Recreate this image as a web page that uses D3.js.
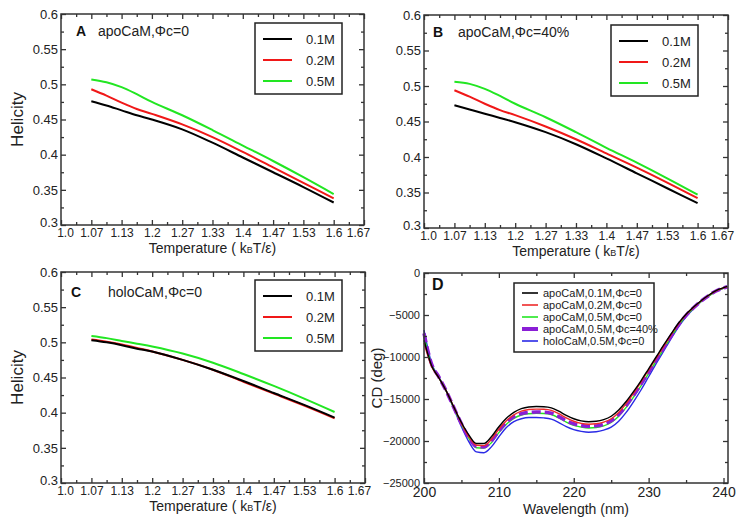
<!DOCTYPE html>
<html><head><meta charset="utf-8">
<script src="https://cdn.jsdelivr.net/npm/d3@7"></script>
<style>
html,body{margin:0;padding:0;background:#fff;}
svg{display:block;font-family:"Liberation Sans",Arial,Helvetica,sans-serif;}
</style></head>
<body><svg id="chart" width="736" height="523"></svg>
<script>
// ---------- DATA ----------
const temperatures = [1.0667, 1.1, 1.1333, 1.1667, 1.2, 1.2667, 1.3333, 1.4, 1.4667, 1.5333, 1.6];
const saltLabels = ["0.1M", "0.2M", "0.5M"];
const saltColors = ["#000000", "#f01818", "#22e622"];

const apo0_01M  = [0.476, 0.470, 0.463, 0.456, 0.450, 0.436, 0.417, 0.396, 0.375, 0.354, 0.332];
const apo0_02M  = [0.493, 0.484, 0.474, 0.465, 0.458, 0.443, 0.425, 0.404, 0.382, 0.360, 0.338];
const apo0_05M  = [0.507, 0.503, 0.496, 0.486, 0.475, 0.456, 0.435, 0.413, 0.391, 0.368, 0.344];

const apo40_01M = [0.473, 0.467, 0.461, 0.455, 0.449, 0.435, 0.418, 0.398, 0.377, 0.356, 0.335];
const apo40_02M = [0.494, 0.485, 0.475, 0.466, 0.459, 0.443, 0.425, 0.405, 0.385, 0.364, 0.342];
const apo40_05M = [0.506, 0.503, 0.496, 0.486, 0.475, 0.456, 0.435, 0.413, 0.392, 0.370, 0.347];

const holo0_01M = [0.503, 0.500, 0.496, 0.491, 0.487, 0.475, 0.461, 0.445, 0.428, 0.411, 0.393];
const holo0_02M = [0.504, 0.501, 0.497, 0.492, 0.487, 0.475, 0.461, 0.444, 0.427, 0.410, 0.392];
const holo0_05M = [0.509, 0.506, 0.502, 0.498, 0.494, 0.484, 0.471, 0.455, 0.438, 0.420, 0.401];

const tempTicks = [1.0, 1.0667, 1.1333, 1.2, 1.2667, 1.3333, 1.4, 1.4667, 1.5333, 1.6, 1.6667];
const tempTickLabels = ["1.0", "1.07", "1.13", "1.2", "1.27", "1.33", "1.4", "1.47", "1.53", "1.6", "1.67"];
const helicityTicks = [0.3, 0.35, 0.4, 0.45, 0.5, 0.55, 0.6];
const helicityTickLabels = ["0.3", "0.35", "0.4", "0.45", "0.5", "0.55", "0.6"];

const wavelengths = [200,201,202,203,204,205,206,207,208,209,210,211,212,213,214,215,216,217,218,219,220,
  221,222,223,224,225,226,227,228,229,230,231,232,233,234,235,236,237,238,239,240,240.5];
const cdApo01 = [-8000,-11000,-12500,-14100,-16000,-17800,-19300,-20300,-20300,-19500,-18300,-17300,-16600,-16150,-15950,-15900,-15920,-16050,-16450,-16950,-17350,
  -17600,-17700,-17650,-17450,-17050,-16300,-15300,-14100,-12800,-11400,-10000,-8600,-7250,-5950,-4900,-4050,-3300,-2650,-2100,-1750,-1600];
const cdApo02 = [-8300,-11100,-12500,-14100,-16000,-17900,-19500,-20500,-20550,-19800,-18600,-17600,-16900,-16450,-16250,-16200,-16220,-16350,-16750,-17250,-17650,
  -17900,-18000,-17950,-17750,-17350,-16600,-15550,-14300,-12950,-11550,-10150,-8750,-7350,-6050,-4950,-4100,-3330,-2680,-2130,-1770,-1620];
const cdApo05 = [-7500,-10900,-12500,-14100,-16100,-18000,-19700,-20800,-20850,-20200,-19000,-18000,-17300,-16900,-16750,-16700,-16720,-16850,-17250,-17750,-18150,
  -18350,-18450,-18400,-18200,-17800,-17050,-16000,-14750,-13400,-11950,-10500,-9050,-7600,-6250,-5100,-4200,-3400,-2750,-2200,-1800,-1650];
const cdApo05_40 = [-7200,-10800,-12400,-14100,-16050,-17950,-19600,-20650,-20700,-20000,-18800,-17800,-17100,-16750,-16600,-16550,-16570,-16700,-17100,-17600,-17950,
  -18150,-18250,-18200,-18000,-17600,-16850,-15800,-14550,-13200,-11800,-10350,-8900,-7500,-6150,-5050,-4150,-3350,-2700,-2150,-1780,-1630];
const cdHolo05 = [-6800,-10700,-12400,-14100,-16200,-18300,-20100,-21300,-21400,-20700,-19500,-18400,-17700,-17350,-17200,-17200,-17250,-17400,-17800,-18300,-18650,
  -18850,-18950,-18900,-18700,-18350,-17650,-16600,-15300,-13900,-12350,-10800,-9300,-7800,-6400,-5200,-4250,-3420,-2750,-2200,-1820,-1680];
const cdLabels = ["apoCaM,0.1M,\u03A6c=0", "apoCaM,0.2M,\u03A6c=0", "apoCaM,0.5M,\u03A6c=0", "apoCaM,0.5M,\u03A6c=40%", "holoCaM,0.5M,\u03A6c=0"];
const cdColors = ["#000000", "#ee2a2a", "#22e622", "#8a1ed6", "#2a2ae6"];
const wlTicks = [200, 210, 220, 230, 240];
const wlMinor = [205, 215, 225, 235];
const cdTicks = [0, -5000, -10000, -15000, -20000, -25000];
const cdMinor = [-2500, -7500, -12500, -17500, -22500];

// ---------- DRAW ----------
const svg = d3.select("#chart");
svg.append("rect").attr("width",736).attr("height",523).attr("fill","#fff");
const FONT = '"Liberation Sans",Arial,Helvetica,sans-serif';

function frameAxes(g, x, y, w, h, xMajor, xMinor, xFmt, yMajor, yMinor, yFmt, xFont, yFont, xPad, yPad) {
  const bx = g.append("g").attr("transform", `translate(0,${h})`)
    .call(d3.axisBottom(x).tickValues(xMajor).tickSize(-5).tickPadding(xPad).tickFormat(xFmt));
  bx.selectAll("text").attr("font-size", xFont).attr("font-family", FONT).attr("fill", "#222");
  g.append("g").attr("transform", `translate(0,${h})`)
    .call(d3.axisBottom(x).tickValues(xMinor).tickSize(-3).tickFormat(""));
  g.append("g").call(d3.axisTop(x).tickValues(xMajor).tickSize(-5).tickFormat(""));
  g.append("g").call(d3.axisTop(x).tickValues(xMinor).tickSize(-3).tickFormat(""));
  const ly = g.append("g")
    .call(d3.axisLeft(y).tickValues(yMajor).tickSize(-5).tickPadding(yPad).tickFormat(yFmt));
  ly.selectAll("text").attr("font-size", yFont).attr("font-family", FONT).attr("fill", "#222");
  g.append("g").call(d3.axisLeft(y).tickValues(yMinor).tickSize(-3).tickFormat(""));
  g.append("g").attr("transform", `translate(${w},0)`)
    .call(d3.axisRight(y).tickValues(yMajor).tickSize(-5).tickFormat(""));
  g.append("g").attr("transform", `translate(${w},0)`)
    .call(d3.axisRight(y).tickValues(yMinor).tickSize(-3).tickFormat(""));
  g.selectAll(".domain").remove();
  g.selectAll(".tick line").attr("stroke", "#333").attr("stroke-width", 1.3);
  g.append("rect").attr("width", w).attr("height", h).attr("fill", "none")
    .attr("stroke", "#333").attr("stroke-width", 1.5);
  return {bx, ly};
}

function tempTitle(g, cx, cy) {
  const t = g.append("text").attr("x", cx).attr("y", cy).attr("text-anchor", "middle")
    .attr("font-size", 14).attr("fill", "#222");
  t.append("tspan").text("Temperature ( k");
  t.append("tspan").attr("font-size", 9).text("B");
  t.append("tspan").text("T/\u03B5)");
}

function helicityPanel(p) {
  const w = p.right - p.left, h = p.bottom - p.top;
  const x = d3.scaleLinear().domain([1.0, 1.6667]).range([0, w]);
  const y = d3.scaleLinear().domain([0.3, 0.6]).range([h, 0]);
  const g = svg.append("g").attr("transform", `translate(${p.left},${p.top})`);
  const minorX = tempTicks.slice(0, -1).map((v, i) => (v + tempTicks[i + 1]) / 2);
  const minorY = helicityTicks.slice(0, -1).map((v, i) => (v + helicityTicks[i + 1]) / 2);
  const lineGen = d3.line().x(d => x(d[0])).y(d => y(d[1])).curve(d3.curveCatmullRom.alpha(0.5));
  p.series.forEach((s, i) => {
    g.append("path").datum(temperatures.map((t, j) => [t, s[j]]))
      .attr("d", lineGen).attr("fill", "none").attr("stroke", saltColors[p.order[i]])
      .attr("stroke-width", 2);
  });
  const ax = frameAxes(g, x, y, w, h, tempTicks, minorX, (d, i) => tempTickLabels[i],
    helicityTicks, minorY, (d, i) => helicityTickLabels[i], 12, 13, 3, 3);
  const xt = ax.bx.selectAll("text").nodes();
  d3.select(xt[0]).attr("dx", 4);
  d3.select(xt[xt.length - 1]).attr("dx", -6);
  const yt = ax.ly.selectAll("text").nodes();
  d3.select(yt[0]).attr("dy", "0.15em");
  g.append("text").attr("x", p.letterX - p.left).attr("y", p.labelY - p.top).attr("dy", "0.35em")
    .attr("font-weight", "bold").attr("font-size", 14).attr("fill", "#111").text(p.letter);
  g.append("text").attr("x", p.nameX - p.left).attr("y", p.labelY - p.top).attr("dy", "0.35em")
    .attr("font-size", 14).attr("fill", "#222").text(p.name);
  const lg = g.append("g").attr("transform", `translate(${p.legX - p.left},${p.legY - p.top})`);
  lg.append("rect").attr("width", 87).attr("height", 71).attr("fill", "#fff")
    .attr("stroke", "#222").attr("stroke-width", 1.5);
  saltLabels.forEach((lab, i) => {
    const yy = 16 + i * 21;
    lg.append("line").attr("x1", 8).attr("x2", 37).attr("y1", yy).attr("y2", yy)
      .attr("stroke", saltColors[i]).attr("stroke-width", 2);
    lg.append("text").attr("x", 51).attr("y", yy).attr("dy", "0.35em")
      .attr("font-size", 13).attr("fill", "#222").text(lab);
  });
  tempTitle(svg, (p.left + p.right) / 2, p.bottom + 28);
  if (p.yTitle) {
    svg.append("text").attr("transform", `translate(23,${(p.top + p.bottom) / 2}) rotate(-90)`)
      .attr("text-anchor", "middle").attr("font-size", 17).attr("fill", "#222").text("Helicity");
  }
}

helicityPanel({left: 61, right: 364, top: 14, bottom: 225, series: [apo0_01M, apo0_02M, apo0_05M], order: [0,1,2],
  letter: "A", letterX: 76, nameX: 98, labelY: 31, name: "apoCaM,\u03A6c=0", legX: 255, legY: 23, yTitle: true});
helicityPanel({left: 424, right: 728, top: 15, bottom: 228, series: [apo40_01M, apo40_02M, apo40_05M], order: [0,1,2],
  letter: "B", letterX: 433, nameX: 458, labelY: 32, name: "apoCaM,\u03A6c=40%", legX: 611, legY: 25, yTitle: false});
helicityPanel({left: 61, right: 365, top: 272, bottom: 483, series: [holo0_05M, holo0_02M, holo0_01M], order: [2,1,0],
  letter: "C", letterX: 71, nameX: 108, labelY: 292, name: "holoCaM,\u03A6c=0", legX: 255, legY: 280, yTitle: true});

// Panel D
(function() {
  const p = {left: 424, right: 728, top: 273, bottom: 483};
  const w = p.right - p.left, h = p.bottom - p.top;
  const x = d3.scaleLinear().domain([200, 240.6]).range([0, w]);
  const y = d3.scaleLinear().domain([-25000, 0]).range([h, 0]);
  const g = svg.append("g").attr("transform", `translate(${p.left},${p.top})`);
  const lineGen = d3.line().x(d => x(d[0])).y(d => y(d[1])).curve(d3.curveMonotoneX);
  const series = [cdApo01, cdApo02, cdApo05, cdApo05_40, cdHolo05];
  const widths = [1.4, 1.4, 1.4, 3.5, 1.4];
  const dashes = [null, null, null, "9,4", null];
  const order = [4, 2, 3, 1, 0];
  order.forEach(i => {
    g.append("path").datum(wavelengths.map((wl, j) => [wl, series[i][j]]))
      .attr("d", lineGen).attr("fill", "none").attr("stroke", cdColors[i])
      .attr("stroke-width", widths[i]).attr("stroke-dasharray", dashes[i]);
  });
  frameAxes(g, x, y, w, h, wlTicks, wlMinor, d3.format("d"), cdTicks, cdMinor, d3.format("d"), 14, 11, 4, 4);
  g.append("text").attr("x", 432 - p.left).attr("y", 284 - p.top).attr("dy", "0.35em")
    .attr("font-weight", "bold").attr("font-size", 16).attr("fill", "#111").text("D");
  const lg = g.append("g").attr("transform", `translate(${514 - p.left},${283 - p.top})`);
  lg.append("rect").attr("width", 140).attr("height", 69).attr("fill", "#fff")
    .attr("stroke", "#222").attr("stroke-width", 1.5);
  cdLabels.forEach((lab, i) => {
    const yy = 10 + i * 12;
    lg.append("line").attr("x1", 8).attr("x2", 24).attr("y1", yy).attr("y2", yy)
      .attr("stroke", cdColors[i]).attr("stroke-width", i === 3 ? 4 : 1.6);
    lg.append("text").attr("x", 29).attr("y", yy).attr("dy", "0.35em")
      .attr("font-size", 11).attr("fill", "#222").text(lab);
  });
  svg.append("text").attr("x", (p.left + p.right) / 2).attr("y", 514).attr("text-anchor", "middle")
    .attr("font-size", 14).attr("fill", "#222").text("Wavelength (nm)");
  svg.append("text").attr("transform", `translate(382,${(p.top + p.bottom) / 2}) rotate(-90)`)
    .attr("text-anchor", "middle").attr("font-size", 15).attr("fill", "#222").text("CD (deg)");
})();
</script></body></html>
